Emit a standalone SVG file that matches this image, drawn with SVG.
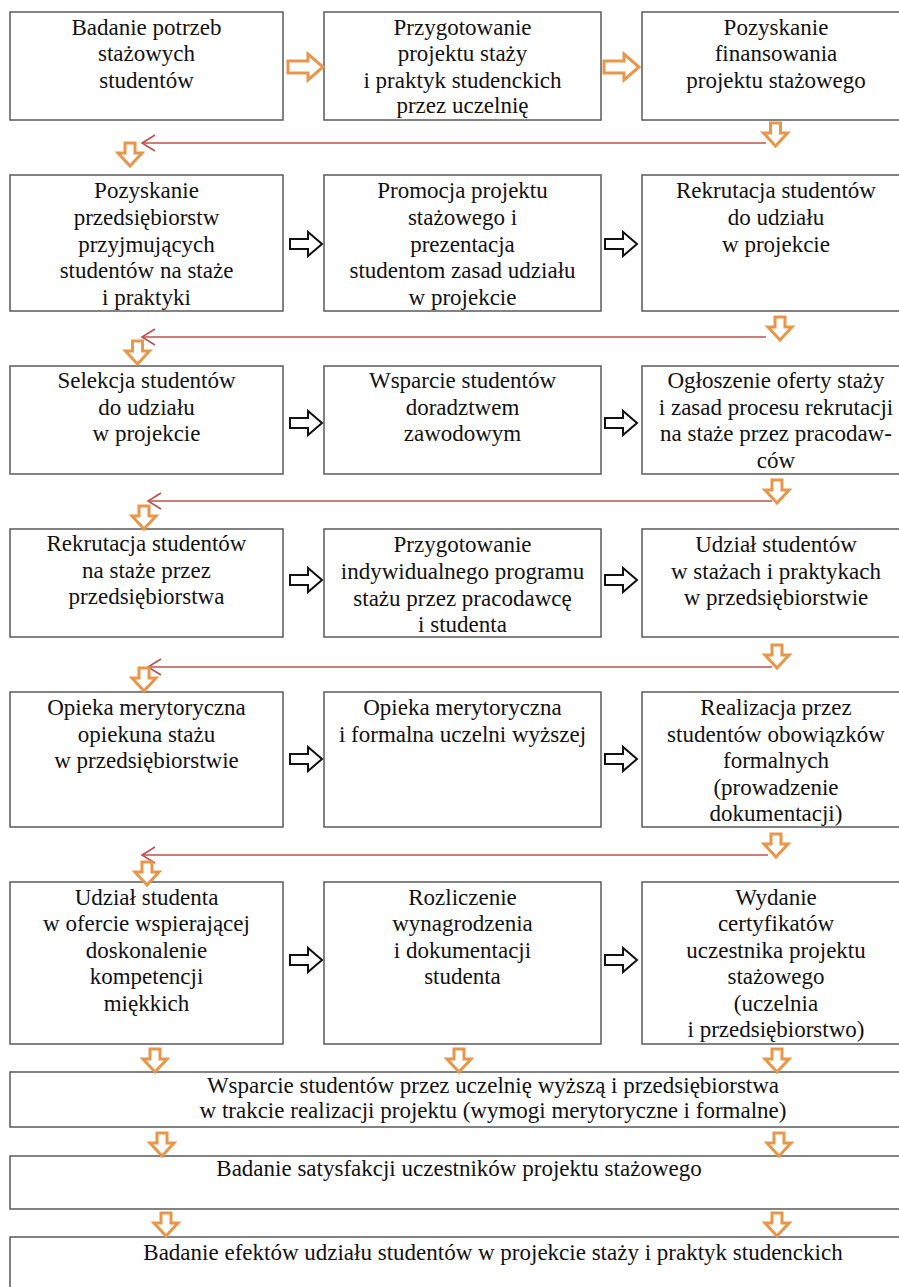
<svg xmlns="http://www.w3.org/2000/svg" width="899" height="1287" viewBox="0 0 899 1287">
<style>
.box{fill:#fff;stroke:#5a5a5a;stroke-width:1.5}
text{font-family:'Liberation Serif',Tinos,'Times New Roman',Times,'Noto Serif','DejaVu Serif',serif;font-size:23px;fill:#111;text-anchor:middle}
.red{stroke:#C0504D;stroke-width:1.6;fill:none}
.oa{fill:#fff;stroke:#E8964A;stroke-width:3;stroke-linejoin:miter}
.ba{fill:#fff;stroke:#111;stroke-width:2}
</style>
<defs>
<path id="dn" d="M-5,0 H5 V10 H12 L0,23 L-12,10 H-5 Z"/>
<path id="ro" d="M0,-6 H20 V-13 L35,0 L20,13 V6 H0 Z"/>
<path id="rb" d="M0,-5 H18 V-12 L32,0 L18,12 V5 H0 Z"/>
<marker id="chev" markerUnits="userSpaceOnUse" markerWidth="20" markerHeight="20" viewBox="-15 -10 20 20" refX="0" refY="0" orient="auto">
<path d="M-13,-8 L0,0 L-13,8" fill="none" stroke="#C0504D" stroke-width="1.6"/>
</marker>
</defs>
<rect width="899" height="1287" fill="#fff"/>
<g font-family="Liberation Serif, serif">
<g id="n1"><rect class="box" x="10" y="12" width="273" height="108"/>
<text x="146.5" y="35">Badanie potrzeb</text><text x="146.5" y="61">stażowych</text><text x="146.5" y="88">studentów</text></g>
<g id="n2"><rect class="box" x="324" y="12" width="277" height="108"/>
<text x="462.5" y="35">Przygotowanie</text><text x="462.5" y="61">projektu staży</text><text x="462.5" y="88">i praktyk studenckich</text><text x="462.5" y="113">przez uczelnię</text></g>
<g id="n3"><rect class="box" x="642" y="12" width="270" height="108"/>
<text x="776" y="35">Pozyskanie</text><text x="776" y="61">finansowania</text><text x="776" y="88">projektu stażowego</text></g>

<g id="n4"><rect class="box" x="10" y="175" width="273" height="136"/>
<text x="146.5" y="198">Pozyskanie</text><text x="146.5" y="225">przedsiębiorstw</text><text x="146.5" y="252">przyjmujących</text><text x="146.5" y="278">studentów na staże</text><text x="146.5" y="305">i praktyki</text></g>
<g id="n5"><rect class="box" x="324" y="175" width="277" height="136"/>
<text x="462.5" y="198">Promocja projektu</text><text x="462.5" y="225">stażowego i</text><text x="462.5" y="252">prezentacja</text><text x="462.5" y="278">studentom zasad udziału</text><text x="462.5" y="305">w projekcie</text></g>
<g id="n6"><rect class="box" x="642" y="175" width="270" height="136"/>
<text x="776" y="198">Rekrutacja studentów</text><text x="776" y="225">do udziału</text><text x="776" y="252">w projekcie</text></g>

<g id="n7"><rect class="box" x="10" y="366" width="273" height="108"/>
<text x="146.5" y="388">Selekcja studentów</text><text x="146.5" y="415">do udziału</text><text x="146.5" y="441">w projekcie</text></g>
<g id="n8"><rect class="box" x="324" y="366" width="277" height="108"/>
<text x="462.5" y="388">Wsparcie studentów</text><text x="462.5" y="415">doradztwem</text><text x="462.5" y="441">zawodowym</text></g>
<g id="n9"><rect class="box" x="642" y="366" width="270" height="108"/>
<text x="776" y="388">Ogłoszenie oferty staży</text><text x="776" y="415">i zasad procesu rekrutacji</text><text x="776" y="441">na staże przez pracodaw-</text><text x="776" y="468">ców</text></g>

<g id="n10"><rect class="box" x="10" y="529" width="273" height="108"/>
<text x="146.5" y="551">Rekrutacja studentów</text><text x="146.5" y="578">na staże przez</text><text x="146.5" y="604">przedsiębiorstwa</text></g>
<g id="n11"><rect class="box" x="324" y="529" width="277" height="108"/>
<text x="462.5" y="552">Przygotowanie</text><text x="462.5" y="579">indywidualnego programu</text><text x="462.5" y="606">stażu przez pracodawcę</text><text x="462.5" y="632">i studenta</text></g>
<g id="n12"><rect class="box" x="642" y="529" width="270" height="108"/>
<text x="776" y="552">Udział studentów</text><text x="776" y="579">w stażach i praktykach</text><text x="776" y="605">w przedsiębiorstwie</text></g>

<g id="n13"><rect class="box" x="10" y="692" width="273" height="135"/>
<text x="146.5" y="715">Opieka merytoryczna</text><text x="146.5" y="742">opiekuna stażu</text><text x="146.5" y="768">w przedsiębiorstwie</text></g>
<g id="n14"><rect class="box" x="324" y="692" width="277" height="135"/>
<text x="462.5" y="715">Opieka merytoryczna</text><text x="462.5" y="742">i formalna uczelni wyższej</text></g>
<g id="n15"><rect class="box" x="642" y="692" width="270" height="135"/>
<text x="776" y="715">Realizacja przez</text><text x="776" y="742">studentów obowiązków</text><text x="776" y="768">formalnych</text><text x="776" y="795">(prowadzenie</text><text x="776" y="821">dokumentacji)</text></g>

<g id="n16"><rect class="box" x="10" y="882" width="273" height="162"/>
<text x="146.5" y="905">Udział studenta</text><text x="146.5" y="931">w ofercie wspierającej</text><text x="146.5" y="958">doskonalenie</text><text x="146.5" y="984">kompetencji</text><text x="146.5" y="1011">miękkich</text></g>
<g id="n17"><rect class="box" x="324" y="882" width="277" height="162"/>
<text x="462.5" y="905">Rozliczenie</text><text x="462.5" y="931">wynagrodzenia</text><text x="462.5" y="958">i dokumentacji</text><text x="462.5" y="984">studenta</text></g>
<g id="n18"><rect class="box" x="642" y="882" width="270" height="162"/>
<text x="776" y="905">Wydanie</text><text x="776" y="931">certyfikatów</text><text x="776" y="958">uczestnika projektu</text><text x="776" y="984">stażowego</text><text x="776" y="1011">(uczelnia</text><text x="776" y="1037">i przedsiębiorstwo)</text></g>

<g id="n19"><rect class="box" x="10" y="1072" width="902" height="55"/>
<text x="493" y="1093">Wsparcie studentów przez uczelnię wyższą i przedsiębiorstwa</text><text x="493" y="1118">w trakcie realizacji projektu (wymogi merytoryczne i formalne)</text></g>
<g id="n20"><rect class="box" x="10" y="1156" width="902" height="53"/>
<text x="459" y="1176">Badanie satysfakcji uczestników projektu stażowego</text></g>
<g id="n21"><rect class="box" x="10" y="1237" width="902" height="70"/>
<text x="493" y="1260">Badanie efektów udziału studentów w projekcie staży i praktyk studenckich</text></g>
</g>
<g id="connectors">
<use href="#ro" class="oa" x="288" y="67"/>
<use href="#ro" class="oa" x="604" y="67"/>
<use href="#rb" class="ba" x="290" y="244"/>
<use href="#rb" class="ba" x="605" y="244"/>
<use href="#rb" class="ba" x="290" y="423"/>
<use href="#rb" class="ba" x="605" y="423"/>
<use href="#rb" class="ba" x="290" y="580"/>
<use href="#rb" class="ba" x="605" y="580"/>
<use href="#rb" class="ba" x="290" y="759"/>
<use href="#rb" class="ba" x="605" y="759"/>
<use href="#rb" class="ba" x="290" y="960"/>
<use href="#rb" class="ba" x="605" y="960"/>

<line class="red" x1="766" y1="143" x2="142" y2="143" marker-end="url(#chev)"/>
<line class="red" x1="766" y1="337" x2="142" y2="337" marker-end="url(#chev)"/>
<line class="red" x1="772" y1="501" x2="148" y2="501" marker-end="url(#chev)"/>
<line class="red" x1="772" y1="667" x2="148" y2="667" marker-end="url(#chev)"/>
<line class="red" x1="768" y1="855" x2="142" y2="855" marker-end="url(#chev)"/>

<use href="#dn" class="oa" x="775.5" y="123"/>
<use href="#dn" class="oa" x="130" y="143"/>
<use href="#dn" class="oa" x="780" y="317"/>
<use href="#dn" class="oa" x="137.5" y="341"/>
<use href="#dn" class="oa" x="777" y="480"/>
<use href="#dn" class="oa" x="144" y="506"/>
<use href="#dn" class="oa" x="777" y="645"/>
<use href="#dn" class="oa" x="144" y="668"/>
<use href="#dn" class="oa" x="776" y="834"/>
<use href="#dn" class="oa" x="147" y="862"/>

<use href="#dn" class="oa" x="155" y="1049"/>
<use href="#dn" class="oa" x="459" y="1049"/>
<use href="#dn" class="oa" x="777" y="1049"/>
<use href="#dn" class="oa" x="162" y="1133"/>
<use href="#dn" class="oa" x="779" y="1133"/>
<use href="#dn" class="oa" x="166" y="1213"/>
<use href="#dn" class="oa" x="777" y="1213"/>
</g>
</svg>
